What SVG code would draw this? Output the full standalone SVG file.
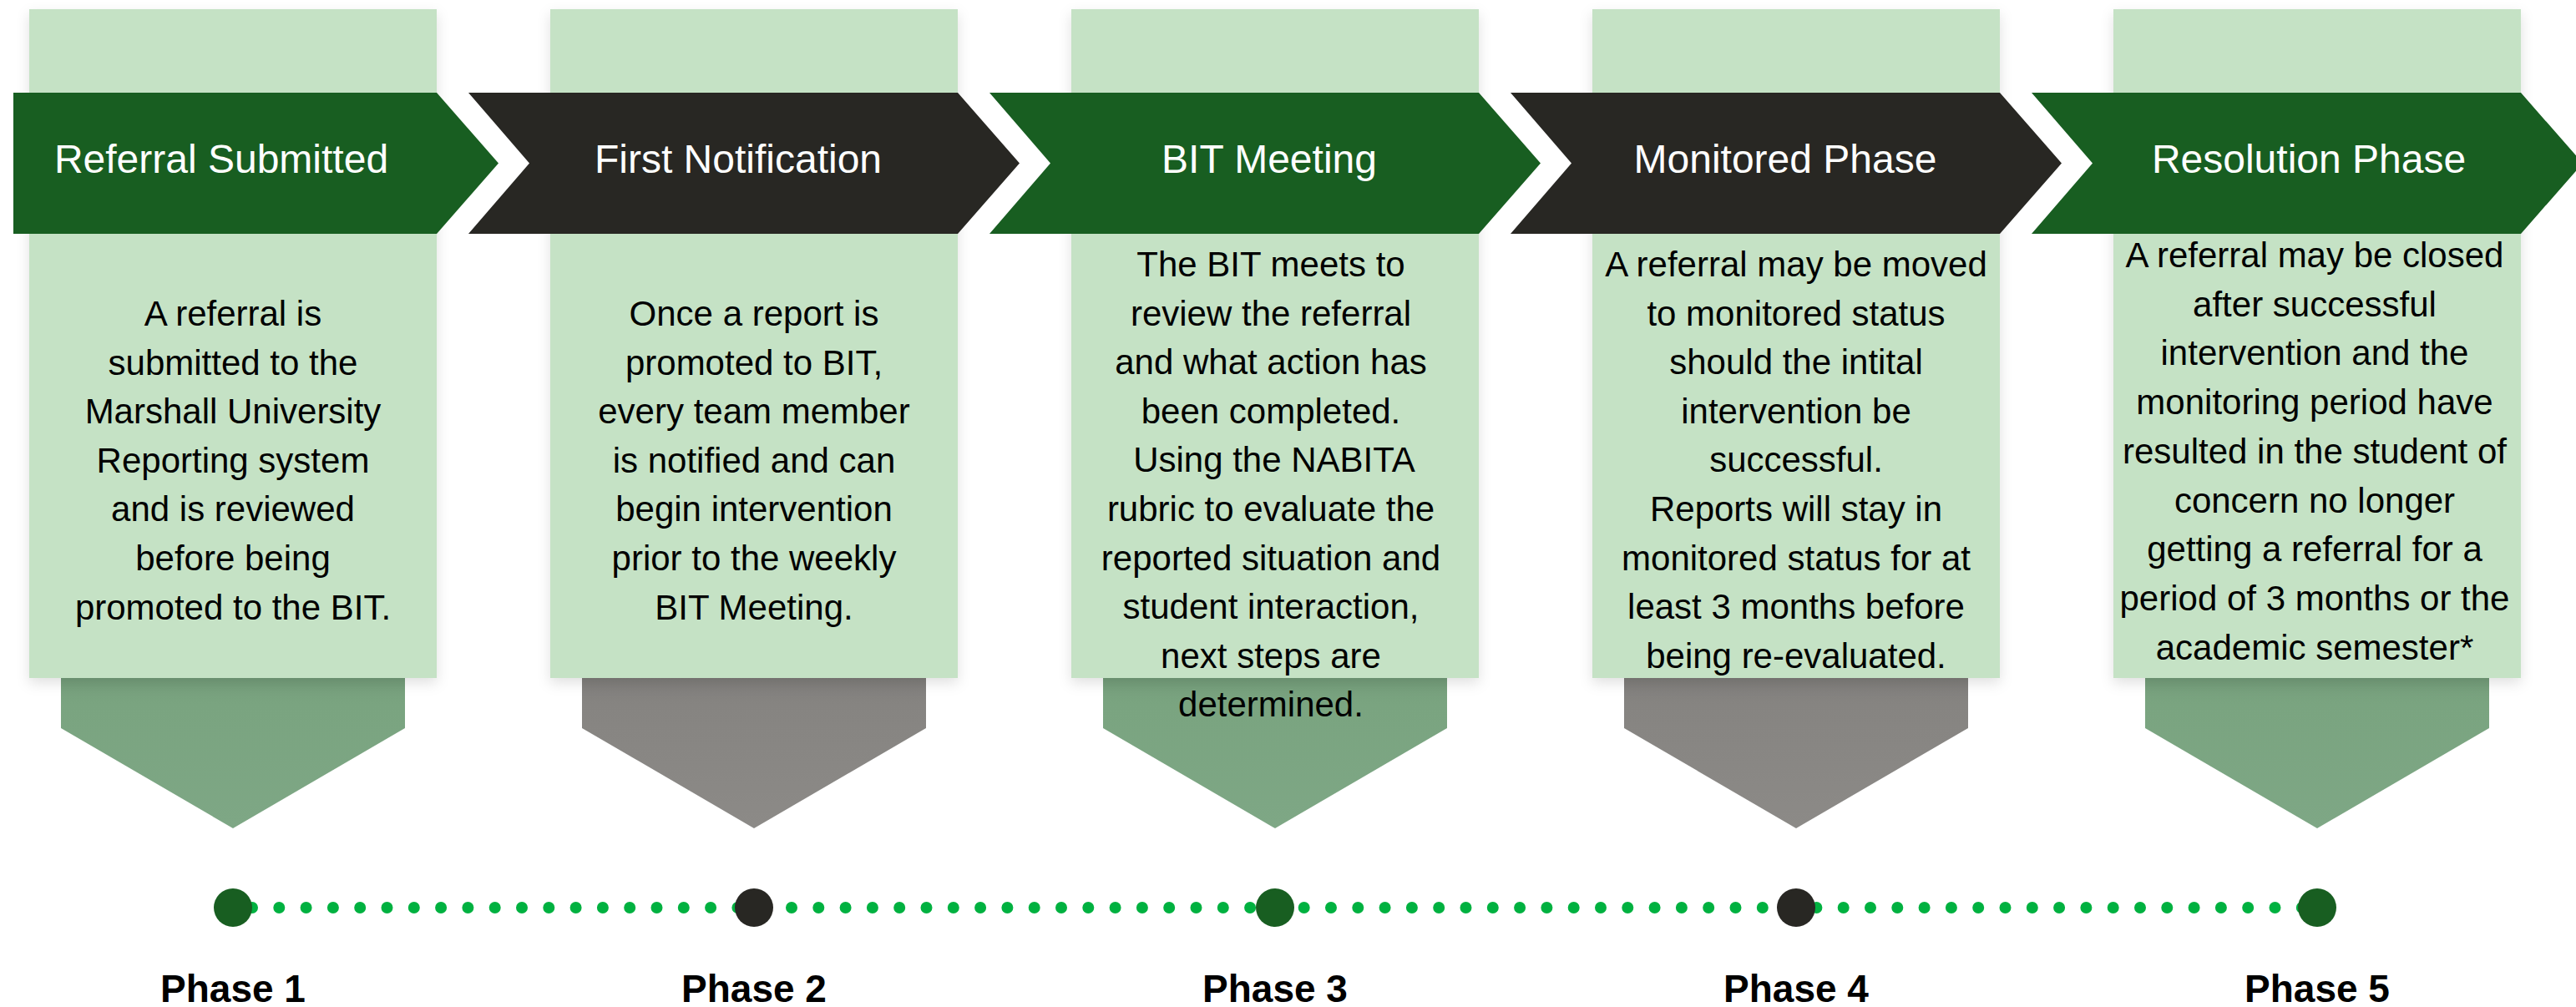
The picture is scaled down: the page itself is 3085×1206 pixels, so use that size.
<svg xmlns="http://www.w3.org/2000/svg" width="3085" height="1206" viewBox="0 0 3085 1206">
<defs>
<linearGradient id="gG" x1="0" y1="0" x2="0" y2="1"><stop offset="0" stop-color="#6F9875"/><stop offset="0.3" stop-color="#7AA480"/><stop offset="1" stop-color="#7EA785"/></linearGradient>
<linearGradient id="gD" x1="0" y1="0" x2="0" y2="1"><stop offset="0" stop-color="#7A7875"/><stop offset="0.3" stop-color="#868481"/><stop offset="1" stop-color="#8C8A87"/></linearGradient>
<filter id="sh" x="-10%" y="-10%" width="120%" height="120%"><feDropShadow dx="0" dy="6" stdDeviation="8" flood-color="#000" flood-opacity="0.12"/></filter>
</defs>
<style>
.box{fill:#C5E2C5}
.cg{fill:#185E21}
.cd{fill:#282723}
.pg{fill:url(#gG)}
.pd{fill:url(#gD)}
.title{font-family:"Liberation Sans",Arial,sans-serif;font-size:48px;fill:#FFFFFF;text-anchor:middle}
.body{font-family:"Liberation Sans",Arial,sans-serif;font-size:42px;fill:#000000;text-anchor:middle}
.phase{font-family:"Liberation Sans",Arial,sans-serif;font-size:46px;font-weight:bold;fill:#000000;text-anchor:middle}
.dg{fill:#185E21}
.dd{fill:#282723}
</style>

<g id="connectors">
<line x1="302" y1="1087" x2="2760" y2="1087" stroke="#00B140" stroke-width="14" stroke-linecap="round" stroke-dasharray="0 32.3"/>
</g>

<g id="phase1">
<path class="pg" d="M73,780 H485 V872 L279,992 L73,872 Z"/>
<rect class="box" x="35" y="11" width="488" height="801" filter="url(#sh)"/>
<path class="cg" d="M16,111 H523 L597,195.5 L523,280 H16 Z"/>
<text class="title" x="265" y="207">Referral Submitted</text>
<text class="body" x="279" y="390">A referral is</text>
<text class="body" x="279" y="448.6">submitted to the</text>
<text class="body" x="279" y="507.2">Marshall University</text>
<text class="body" x="279" y="565.8">Reporting system</text>
<text class="body" x="279" y="624.4">and is reviewed</text>
<text class="body" x="279" y="683">before being</text>
<text class="body" x="279" y="741.6">promoted to the BIT.</text>
<circle class="dg" cx="279" cy="1087" r="23"/>
<text class="phase" x="279" y="1200">Phase 1</text>
</g>

<g id="phase2">
<path class="pd" d="M697,780 H1109 V872 L903,992 L697,872 Z"/>
<rect class="box" x="659" y="11" width="488" height="801" filter="url(#sh)"/>
<path class="cd" d="M561,111 H1147 L1221,195.5 L1147,280 H561 L634,195.5 Z"/>
<text class="title" x="884" y="207">First Notification</text>
<text class="body" x="903" y="390">Once a report is</text>
<text class="body" x="903" y="448.6">promoted to BIT,</text>
<text class="body" x="903" y="507.2">every team member</text>
<text class="body" x="903" y="565.8">is notified and can</text>
<text class="body" x="903" y="624.4">begin intervention</text>
<text class="body" x="903" y="683">prior to the weekly</text>
<text class="body" x="903" y="741.6">BIT Meeting.</text>
<circle class="dd" cx="903" cy="1087" r="23"/>
<text class="phase" x="903" y="1200">Phase 2</text>
</g>

<g id="phase3">
<path class="pg" d="M1321,780 H1733 V872 L1527,992 L1321,872 Z"/>
<rect class="box" x="1283" y="11" width="488" height="801" filter="url(#sh)"/>
<path class="cg" d="M1185,111 H1771 L1845,195.5 L1771,280 H1185 L1258,195.5 Z"/>
<text class="title" x="1520" y="207">BIT Meeting</text>
<text class="body" x="1522" y="331">The BIT meets to</text>
<text class="body" x="1522" y="389.6">review the referral</text>
<text class="body" x="1522" y="448.2">and what action has</text>
<text class="body" x="1522" y="506.8">been completed.</text>
<text class="body" x="1526" y="565.4">Using the NABITA</text>
<text class="body" x="1522" y="624">rubric to evaluate the</text>
<text class="body" x="1522" y="682.6">reported situation and</text>
<text class="body" x="1522" y="741.2">student interaction,</text>
<text class="body" x="1522" y="799.8">next steps are</text>
<text class="body" x="1522" y="858.4">determined.</text>
<circle class="dg" cx="1527" cy="1087" r="23"/>
<text class="phase" x="1527" y="1200">Phase 3</text>
</g>

<g id="phase4">
<path class="pd" d="M1945,780 H2357 V872 L2151,992 L1945,872 Z"/>
<rect class="box" x="1907" y="11" width="488" height="801" filter="url(#sh)"/>
<path class="cd" d="M1809,111 H2395 L2469,195.5 L2395,280 H1809 L1882,195.5 Z"/>
<text class="title" x="2138" y="207">Monitored Phase</text>
<text class="body" x="2151" y="331">A referral may be moved</text>
<text class="body" x="2151" y="389.6">to monitored status</text>
<text class="body" x="2151" y="448.2">should the intital</text>
<text class="body" x="2151" y="506.8">intervention be</text>
<text class="body" x="2151" y="565.4">successful.</text>
<text class="body" x="2151" y="624">Reports will stay in</text>
<text class="body" x="2151" y="682.6">monitored status for at</text>
<text class="body" x="2151" y="741.2">least 3 months before</text>
<text class="body" x="2151" y="799.8">being re-evaluated.</text>
<circle class="dd" cx="2151" cy="1087" r="23"/>
<text class="phase" x="2151" y="1200">Phase 4</text>
</g>

<g id="phase5">
<path class="pg" d="M2569,780 H2981 V872 L2775,992 L2569,872 Z"/>
<rect class="box" x="2531" y="11" width="488" height="801" filter="url(#sh)"/>
<path class="cg" d="M2433,111 H3019 L3093,195.5 L3019,280 H2433 L2506,195.5 Z"/>
<text class="title" x="2765" y="207">Resolution Phase</text>
<text class="body" x="2772" y="320">A referral may be closed</text>
<text class="body" x="2772" y="378.7">after successful</text>
<text class="body" x="2772" y="437.4">intervention and the</text>
<text class="body" x="2772" y="496.1">monitoring period have</text>
<text class="body" x="2772" y="554.8">resulted in the student of</text>
<text class="body" x="2772" y="613.5">concern no longer</text>
<text class="body" x="2772" y="672.2">getting a referral for a</text>
<text class="body" x="2772" y="730.9">period of 3 months or the</text>
<text class="body" x="2772" y="789.6">academic semester*</text>
<circle class="dg" cx="2775" cy="1087" r="23"/>
<text class="phase" x="2775" y="1200">Phase 5</text>
</g>
</svg>
